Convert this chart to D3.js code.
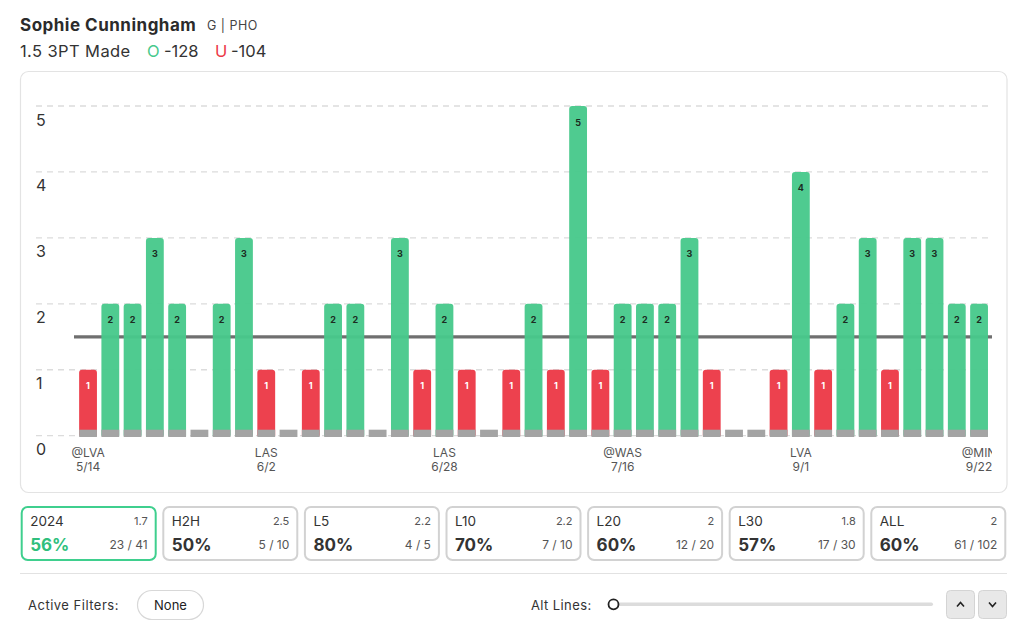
<!DOCTYPE html>
<html>
<head>
<meta charset="utf-8">
<script src="https://cdn.jsdelivr.net/npm/d3@7"></script>
<style>
  html, body { margin: 0; padding: 0; background: #fff; }
  svg { display: block; font-family: Inter, "Noto Sans", sans-serif; }
</style>
</head>
<body>
<svg id="chart" width="1024" height="629"></svg>
<script>
// ---------- data ----------
const playerName = "Sophie Cunningham";
const playerInfo = "G | PHO";
const propLabel = "1.5 3PT Made";
const overOdds = "-128";
const underOdds = "-104";
const lineValue = 1.5;

const values = [1,2,2,3,2,0,2,3,1,0,1,2,2,0,3,1,2,1,0,1,2,1,5,1,2,2,2,3,1,0,0,1,4,1,2,3,1,3,3,2,2];
const tickIndex = [0, 8, 16, 24, 32, 40];
const tickOpp = ["@LVA", "LAS", "LAS", "@WAS", "LVA", "@MIN"];
const tickDate = ["5/14", "6/2", "6/28", "7/16", "9/1", "9/22"];
const yTicks = [0, 1, 2, 3, 4, 5];

const cardLabels = ["2024", "H2H", "L5", "L10", "L20", "L30", "ALL"];
const cardAvg = ["1.7", "2.5", "2.2", "2.2", "2", "1.8", "2"];
const cardPct = ["56%", "50%", "80%", "70%", "60%", "57%", "60%"];
const cardHits = ["23 / 41", "5 / 10", "4 / 5", "7 / 10", "12 / 20", "17 / 30", "61 / 102"];

// ---------- styles ----------
const GREEN = "#48c98b", RED = "#ec3947", GRAY = "#a4a4a4";
const svg = d3.select("#chart");

// header
svg.append("text").attr("x", 20).attr("y", 31).attr("font-size", 17).attr("font-weight", 700)
  .attr("letter-spacing", 0.5).attr("fill", "#2b2b2b").text(playerName);
svg.append("text").attr("x", 207).attr("y", 30).attr("font-size", 12.5).attr("letter-spacing", 0.5)
  .attr("fill", "#444").text(playerInfo);
const sub = svg.append("text").attr("x", 20).attr("y", 57).attr("font-size", 16.5).attr("fill", "#333");
sub.append("tspan").attr("letter-spacing", 0.4).text(propLabel);
sub.append("tspan").attr("x", 147).attr("fill", GREEN).text("O");
sub.append("tspan").attr("x", 164).text(overOdds);
sub.append("tspan").attr("x", 215).attr("fill", RED).text("U");
sub.append("tspan").attr("x", 231).text(underOdds);

// chart card
svg.append("rect").attr("x", 20.5).attr("y", 71.5).attr("width", 986.5).attr("height", 421)
  .attr("rx", 8).attr("fill", "#fff").attr("stroke", "#e3e3e3").attr("stroke-width", 1.2);

const x = d3.scaleBand().domain(d3.range(values.length)).range([76.9, 990.2])
  .paddingInner(0.2).paddingOuter(0.1);
const y = d3.scaleLinear().domain([0, 5]).range([435.7, 106]);

// gridlines
svg.append("g").selectAll("line").data(yTicks).join("line")
  .attr("x1", 36).attr("x2", 992).attr("y1", d => y(d)).attr("y2", d => y(d))
  .attr("stroke", "#dcdcdc").attr("stroke-width", 1.3).attr("stroke-dasharray", "6,5");

// y labels
svg.append("g").selectAll("text").data(yTicks).join("text")
  .attr("x", 36).attr("y", d => y(d) + 19.5).attr("font-size", 16).attr("fill", "#333")
  .text(d => d);

// prop line (under bars)
svg.append("line").attr("x1", 74).attr("x2", 992).attr("y1", y(lineValue)).attr("y2", y(lineValue))
  .attr("stroke", "#6f6f6f").attr("stroke-width", 3.2);

// bars
function topRounded(x0, y0, w, h, r) {
  r = Math.min(r, h, w / 2);
  return `M${x0},${y0 + h}V${y0 + r}Q${x0},${y0} ${x0 + r},${y0}H${x0 + w - r}Q${x0 + w},${y0} ${x0 + w},${y0 + r}V${y0 + h}Z`;
}
const bw = x.bandwidth();
svg.append("g").selectAll("path").data(values.map((v, i) => ({ v, i })).filter(d => d.v > 0)).join("path")
  .attr("d", d => topRounded(x(d.i), y(d.v), bw, y(0) - y(d.v), 3))
  .attr("fill", d => d.v > lineValue ? GREEN : RED).attr("opacity", 0.96);

// gray base stubs
svg.append("g").selectAll("rect").data(values.map((v, i) => i)).join("rect")
  .attr("x", i => x(i)).attr("y", y(0) - 6).attr("width", bw).attr("height", 7.3)
  .attr("fill", GRAY);

// value labels
svg.append("g").selectAll("text").data(values.map((v, i) => ({ v, i })).filter(d => d.v > 0)).join("text")
  .attr("x", d => x(d.i) + bw / 2).attr("y", d => y(d.v) + 19.5).attr("text-anchor", "middle")
  .attr("font-size", 9).attr("font-weight", 700)
  .attr("fill", d => d.v > lineValue ? "#1c2b22" : "#fff").text(d => d.v);

// x labels (clipped at plot right)
svg.append("clipPath").attr("id", "xclip").append("rect").attr("x", 20).attr("y", 440).attr("width", 972).attr("height", 40);
const xl = svg.append("g").attr("clip-path", "url(#xclip)");
tickIndex.forEach((ti, k) => {
  const cx = x(ti) + bw / 2;
  xl.append("text").attr("x", cx).attr("y", 457).attr("text-anchor", "middle").attr("font-size", 12)
    .attr("fill", "#555").text(tickOpp[k]);
  xl.append("text").attr("x", cx).attr("y", 470.5).attr("text-anchor", "middle").attr("font-size", 12)
    .attr("fill", "#555").text(tickDate[k]);
});

// stat cards
const cards = svg.append("g").selectAll("g").data(cardLabels.map((l, i) => i)).join("g")
  .attr("transform", i => `translate(${20.7 + i * 141.6},506)`);
cards.append("rect").attr("x", 1).attr("y", 1).attr("width", 134).attr("height", 53).attr("rx", 6)
  .attr("fill", "#fff").attr("stroke", i => i === 0 ? "#3fcf8e" : "#d2d2d2").attr("stroke-width", 2);
cards.append("text").attr("x", 9.5).attr("y", 20).attr("font-size", 13.5).attr("fill", "#333").text(i => cardLabels[i]);
cards.append("text").attr("x", 127).attr("y", 18.5).attr("text-anchor", "end").attr("font-size", 11).attr("fill", "#555").text(i => cardAvg[i]);
cards.append("text").attr("x", 9.5).attr("y", 44.5).attr("font-size", 17).attr("font-weight", 700)
  .attr("fill", i => i === 0 ? "#2fbf7d" : "#333").text(i => cardPct[i]);
cards.append("text").attr("x", 127).attr("y", 43).attr("text-anchor", "end").attr("font-size", 12).attr("fill", "#555").text(i => cardHits[i]);

// divider
svg.append("line").attr("x1", 20).attr("x2", 1007).attr("y1", 573.5).attr("y2", 573.5).attr("stroke", "#e2e2e2").attr("stroke-width", 1.2);

// bottom controls
svg.append("text").attr("x", 28).attr("y", 609.5).attr("font-size", 13).attr("letter-spacing", 0.5).attr("fill", "#333").text("Active Filters:");
svg.append("rect").attr("x", 137.5).attr("y", 590.5).attr("width", 66).attr("height", 29).attr("rx", 14.5)
  .attr("fill", "#fff").attr("stroke", "#d8d8d8").attr("stroke-width", 1.2);
svg.append("text").attr("x", 170.5).attr("y", 609.5).attr("text-anchor", "middle").attr("font-size", 13).attr("fill", "#222").text("None");
svg.append("text").attr("x", 531).attr("y", 609.5).attr("font-size", 13).attr("letter-spacing", 0.4).attr("fill", "#333").text("Alt Lines:");
svg.append("rect").attr("x", 614).attr("y", 602.5).attr("width", 319).attr("height", 3.5).attr("rx", 1.7).attr("fill", "#dcdcdc");
svg.append("circle").attr("cx", 613.5).attr("cy", 604.3).attr("r", 5).attr("fill", "#fff").attr("stroke", "#222").attr("stroke-width", 1.8);
[946, 978].forEach((bx, k) => {
  svg.append("rect").attr("x", bx + 0.5).attr("y", 590.5).attr("width", 28).attr("height", 28).attr("rx", 4)
    .attr("fill", "#e8e8e8").attr("stroke", "#d4d4d4");
  const cx = bx + 14.5, cy = 604.5;
  const d = k === 0 ? `M${cx - 3.5},${cy + 2}L${cx},${cy - 2}L${cx + 3.5},${cy + 2}` : `M${cx - 3.5},${cy - 2}L${cx},${cy + 2}L${cx + 3.5},${cy - 2}`;
  svg.append("path").attr("d", d).attr("fill", "none").attr("stroke", "#222").attr("stroke-width", 1.6);
});
</script>
</body>
</html>
